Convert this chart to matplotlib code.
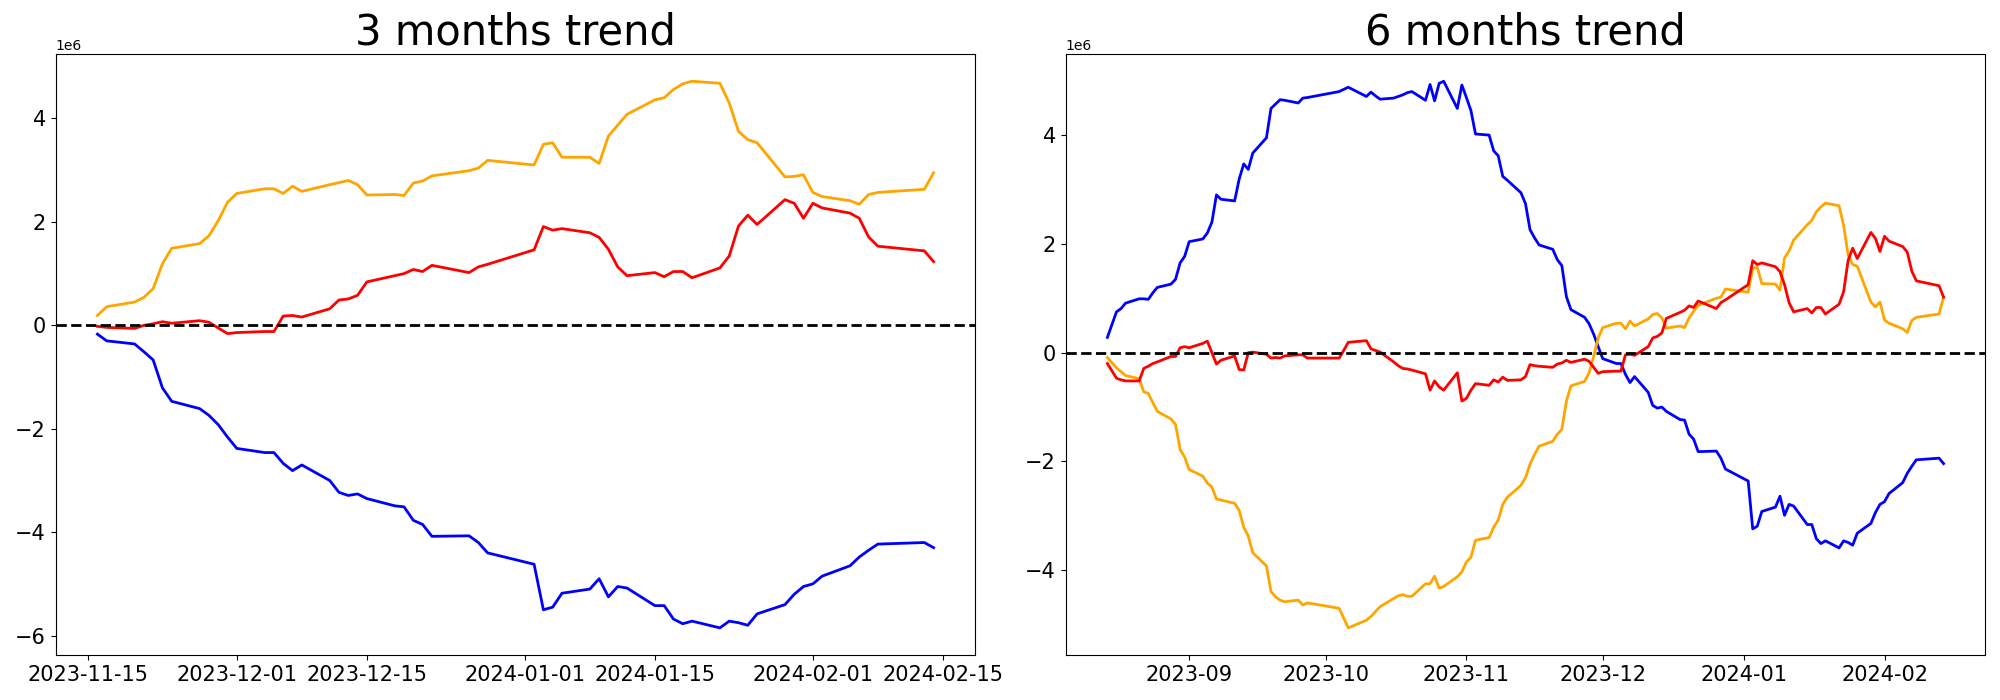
import numpy as np
import pandas as pd
import matplotlib
matplotlib.use("Agg")
import matplotlib.pyplot as plt

# KRX closed days inside the plotted range
holidays = ["2023-08-15", "2023-09-28", "2023-09-29", "2023-10-02", "2023-10-03",
            "2023-10-09", "2023-12-25", "2023-12-29", "2024-01-01", "2024-02-09",
            "2024-02-12"]

dates_3m = pd.bdate_range("2023-11-16", "2024-02-14", freq="C", holidays=holidays)
dates_6m = pd.bdate_range("2023-08-14", "2024-02-14", freq="C", holidays=holidays)

# values in millions
blue_3m = [-0.17, -0.30, -0.36, -0.51, -0.67, -1.21, -1.47, -1.61, -1.74, -1.92, -2.16,
           -2.38, -2.46, -2.46, -2.67, -2.81, -2.70, -3.00, -3.23, -3.29, -3.26, -3.35, -3.49, -3.51, -3.77,
           -3.85, -4.08, -4.07, -4.20, -4.40,
           -4.62, -5.50, -5.45, -5.18, -5.10, -4.90, -5.25, -5.05, -5.08, -5.42, -5.42, -5.68, -5.77, -5.72,
           -5.85, -5.72, -5.75, -5.80, -5.58, -5.40, -5.20, -5.05,
           -5.00, -4.85, -4.65, -4.48, -4.35, -4.23, -4.20, -4.30]
orange_3m = [0.19, 0.36, 0.45, 0.54, 0.71, 1.19, 1.49, 1.58, 1.73, 2.02, 2.38,
             2.55, 2.64, 2.64, 2.55, 2.69, 2.59, 2.72, 2.76, 2.80, 2.72, 2.52, 2.53, 2.51, 2.75,
             2.79, 2.89, 2.99, 3.04, 3.19,
             3.10, 3.50, 3.53, 3.25, 3.25, 3.13, 3.66, 3.87, 4.08, 4.36, 4.40, 4.56, 4.67, 4.72,
             4.68, 4.30, 3.75, 3.59, 3.53, 2.87, 2.88, 2.91,
             2.57, 2.49, 2.41, 2.34, 2.53, 2.57, 2.63, 2.95]
red_3m = [-0.02, -0.04, -0.06, 0.00, 0.03, 0.07, 0.04, 0.09, 0.06, -0.05, -0.16,
          -0.14, -0.12, -0.12, 0.18, 0.19, 0.16, 0.32, 0.49, 0.51, 0.58, 0.84, 0.96, 1.00, 1.08,
          1.04, 1.16, 1.02, 1.13, 1.18,
          1.46, 1.91, 1.84, 1.87, 1.79, 1.70, 1.47, 1.13, 0.96, 1.02, 0.94, 1.04, 1.04, 0.92,
          1.11, 1.34, 1.92, 2.13, 1.95, 2.43, 2.36, 2.07,
          2.36, 2.27, 2.17, 2.07, 1.71, 1.53, 1.44, 1.23]

blue_6m = [0.28, 0.75, 0.81, 0.91, 0.99, 0.99, 0.98, 1.10, 1.20, 1.26, 1.35, 1.65, 1.77,
           2.04, 2.09, 2.20, 2.40, 2.90, 2.82, 2.79, 3.19, 3.47, 3.37, 3.67, 3.95, 4.49, 4.57, 4.65, 4.64,
           4.59, 4.68, 4.69,
           4.80, 4.84, 4.88, 4.71, 4.79, 4.72, 4.66, 4.68, 4.71, 4.74, 4.78, 4.80, 4.64, 4.93, 4.63, 4.95,
           4.99, 4.49, 4.92,
           4.69, 4.45, 4.02, 4.00, 3.71, 3.62, 3.24, 3.17, 2.94, 2.74, 2.26, 2.11, 1.98, 1.90, 1.71, 1.60,
           1.03, 0.79, 0.65, 0.53, 0.34, 0.11,
           -0.11, -0.20, -0.20, -0.40, -0.55, -0.44, -0.73, -0.97, -1.02, -1.00, -1.08, -1.23, -1.24, -1.50,
           -1.59, -1.82, -1.81, -1.94, -2.14,
           -2.36, -3.24, -3.19, -2.92, -2.84, -2.64, -2.99, -2.79, -2.82, -3.16, -3.16, -3.42, -3.51, -3.46,
           -3.59, -3.46, -3.49, -3.54, -3.32, -3.14, -2.94, -2.79,
           -2.74, -2.59, -2.39, -2.22, -2.09, -1.97, -1.94, -2.04]
orange_6m = [-0.09, -0.28, -0.35, -0.42, -0.48, -0.72, -0.75, -0.92, -1.08, -1.22, -1.32, -1.78, -1.92,
             -2.15, -2.27, -2.40, -2.47, -2.69, -2.71, -2.77, -2.90, -3.21, -3.37, -3.68, -3.92, -4.39, -4.49,
             -4.55, -4.58, -4.55, -4.64, -4.60,
             -4.70, -4.88, -5.06, -4.92, -4.85, -4.76, -4.67, -4.52, -4.47, -4.45, -4.48, -4.48, -4.25, -4.25,
             -4.11, -4.33, -4.30, -4.12, -4.03,
             -3.85, -3.76, -3.45, -3.40, -3.21, -3.08, -2.79, -2.66, -2.44, -2.30, -2.05, -1.87, -1.72, -1.63,
             -1.50, -1.41, -0.89, -0.61, -0.53, -0.37, -0.07, 0.27,
             0.46, 0.54, 0.54, 0.44, 0.58, 0.49, 0.62, 0.70, 0.72, 0.64, 0.45, 0.49, 0.46, 0.64, 0.76, 0.87,
             1.00, 1.02, 1.17,
             1.11, 1.55, 1.57, 1.27, 1.26, 1.15, 1.74, 1.87, 2.07, 2.35, 2.43, 2.59, 2.68, 2.75, 2.70, 2.34,
             1.79, 1.62, 1.59, 0.93, 0.84, 0.93,
             0.60, 0.54, 0.44, 0.37, 0.59, 0.65, 0.71, 1.02]
red_6m = [-0.20, -0.47, -0.50, -0.52, -0.52, -0.29, -0.25, -0.20, -0.17, -0.07, -0.07, 0.09, 0.11,
          0.09, 0.17, 0.21, 0.00, -0.21, -0.14, -0.06, -0.31, -0.32, 0.00, 0.01, -0.03, -0.10, -0.09,
          -0.10, -0.06, -0.04, -0.04, -0.10,
          -0.10, 0.04, 0.19, 0.22, 0.07, 0.04, 0.01, -0.17, -0.24, -0.29, -0.30, -0.32, -0.39, -0.69,
          -0.52, -0.63, -0.69, -0.37, -0.89,
          -0.84, -0.69, -0.57, -0.60, -0.50, -0.54, -0.45, -0.51, -0.50, -0.44, -0.22, -0.24, -0.25, -0.27,
          -0.21, -0.19, -0.14, -0.18, -0.12, -0.16, -0.27, -0.38,
          -0.35, -0.34, -0.34, -0.04, -0.03, -0.05, 0.11, 0.27, 0.30, 0.36, 0.63, 0.74, 0.78, 0.86,
          0.83, 0.95, 0.81, 0.92, 0.97,
          1.25, 1.69, 1.62, 1.65, 1.58, 1.49, 1.25, 0.92, 0.75, 0.81, 0.73, 0.83, 0.83, 0.71, 0.89, 1.12,
          1.70, 1.92, 1.73, 2.21, 2.10, 1.86,
          2.14, 2.05, 1.95, 1.85, 1.50, 1.32, 1.23, 1.02]


def trend(ax, title, dates, blue, orange, red):
    ax.plot(dates, np.array(blue) * 1e6, color="blue", linewidth=2)
    ax.plot(dates, np.array(orange) * 1e6, color="orange", linewidth=2)
    ax.plot(dates, np.array(red) * 1e6, color="red", linewidth=2)
    ax.axhline(0, color="black", linestyle="--", linewidth=2)
    ax.set_title(title, fontsize=30)
    ax.tick_params(labelsize=15)


fig, (ax1, ax2) = plt.subplots(1, 2, figsize=(20, 7), dpi=100)
trend(ax1, "3 months trend", dates_3m, blue_3m, orange_3m, red_3m)
trend(ax2, "6 months trend", dates_6m, blue_6m, orange_6m, red_6m)
fig.subplots_adjust(left=0.0278, right=0.9927, top=0.923, bottom=0.064, wspace=0.098)
fig.savefig("out.png")
